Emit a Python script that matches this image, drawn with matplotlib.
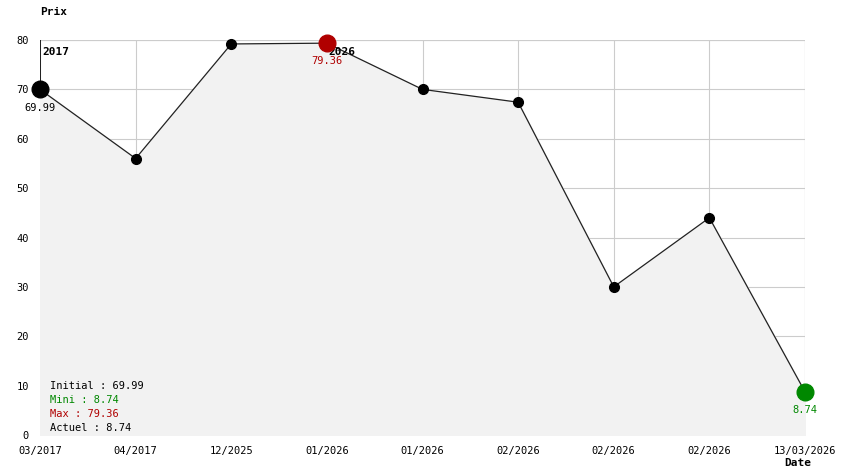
import matplotlib.pyplot as plt

dates = ["03/2017", "04/2017", "12/2025", "01/2026", "01/2026", "02/2026",
         "02/2026", "02/2026", "13/03/2026"]
prices = [69.99, 56.0, 79.2, 79.36, 70.0, 67.4, 30.0, 44.0, 8.74]
year_marks = [(0, "2017"), (3, "2026")]

W, H = 844, 474
fig = plt.figure(figsize=(W / 100, H / 100), dpi=100)
ax = fig.add_axes([40 / W, 1 - 435 / H, 765 / W, 395 / H])
mono = "DejaVu Sans Mono"

x = list(range(len(prices)))
ax.set_xlim(0, len(prices) - 1)
ax.set_ylim(0, 80)
ax.fill_between(x, prices, 0, color="#f2f2f2", zorder=1)
ax.plot(x, prices, color="#222222", lw=0.9, zorder=3)

# markers
imax = prices.index(max(prices))
for i, p in enumerate(prices):
    if i == imax:
        ax.plot(i, p, "o", ms=12, color="#b00000", zorder=5, clip_on=False)
    elif i == len(prices) - 1:
        ax.plot(i, p, "o", ms=12, color="#008800", zorder=5, clip_on=False)
    elif i == 0:
        ax.plot(i, p, "o", ms=12, color="black", zorder=5, clip_on=False)
    else:
        ax.plot(i, p, "o", ms=7, color="black", zorder=5, clip_on=False)

# year markers
for i, yr in year_marks:
    ax.plot([i, i], [prices[i], 80], color="black", lw=1.2, zorder=4)
    ax.text(i + 0.02, 77.5, yr, fontsize=8, fontweight="bold", family=mono,
            ha="left", va="center", zorder=4)

# point labels
ax.text(0, prices[0] - 3.7, f"{prices[0]:.2f}", fontsize=7.5, family=mono,
        ha="center", va="center", color="black", zorder=6)
ax.text(imax, prices[imax] - 3.7, f"{prices[imax]:.2f}", fontsize=7.5, family=mono,
        ha="center", va="center", color="#b00000", zorder=6)
ax.text(len(prices) - 1, prices[-1] - 3.7, f"{prices[-1]:.2f}", fontsize=7.5,
        family=mono, ha="center", va="center", color="#008800", zorder=6)

ax.set_xticks(x)
ax.set_xticklabels(dates, family=mono, fontsize=7.5)
ax.set_yticks(range(0, 81, 10))
ax.set_yticklabels([str(v) for v in range(0, 81, 10)], family=mono, fontsize=7.5)
ax.tick_params(length=0, pad=8)
ax.grid(True, color="#cccccc", lw=0.8, zorder=0)
ax.set_axisbelow(True)
for s in ax.spines.values():
    s.set_visible(False)
ax.plot([1, 1], [0, 1], transform=ax.transAxes, color="#cccccc", lw=0.8, zorder=0)
ax.plot([0, 1], [1, 1], transform=ax.transAxes, color="#cccccc", lw=0.8, zorder=0)

# info block
info = [(f"Initial : {prices[0]:.2f}", "black"),
        (f"Mini : {min(prices):.2f}", "#008800"),
        (f"Max : {max(prices):.2f}", "#b00000"),
        (f"Actuel : {prices[-1]:.2f}", "black")]
for k, (t, c) in enumerate(info):
    fig.text(50 / W, 1 - (386 + k * 14) / H, t, fontsize=7.5, family=mono,
             color=c, ha="left", va="center")

fig.text(40 / W, 1 - 12 / H, "Prix", fontsize=8, fontweight="bold", family=mono,
         ha="left", va="center")
fig.text(784 / W, 1 - 463 / H, "Date", fontsize=8, fontweight="bold", family=mono,
         ha="left", va="center")

fig.savefig("out.png", dpi=100)
